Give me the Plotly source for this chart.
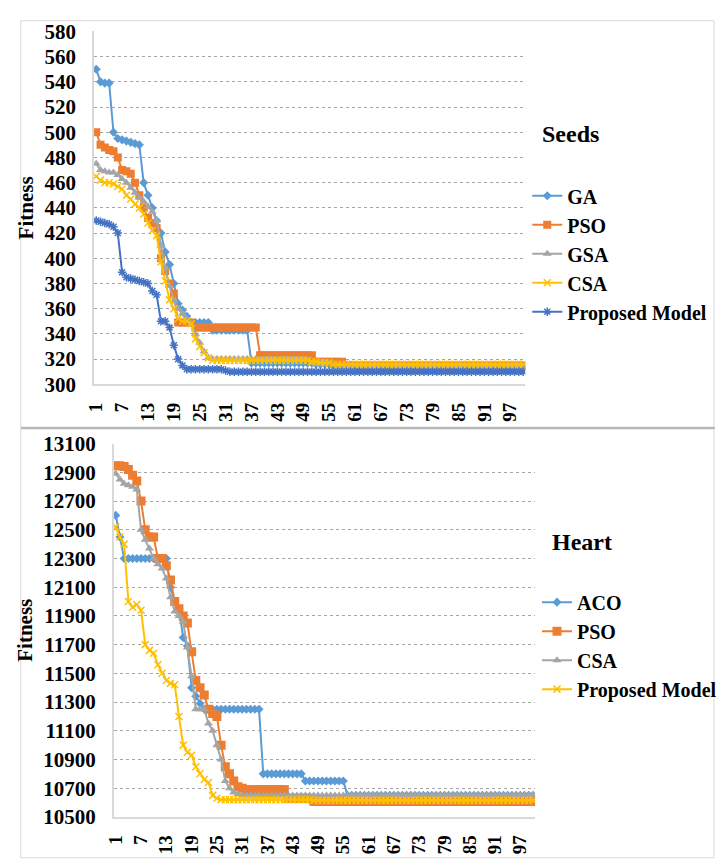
import plotly.graph_objects as go

W, H = 722, 861
FONT = "Liberation Serif"

iterations = list(range(1, 101))
x_tick_labels = [1, 7, 13, 19, 25, 31, 37, 43, 49, 55, 61, 67, 73, 79, 85, 91, 97]

# ---------------- Seeds (top chart) ----------------
seeds_ga = [
    550, 540, 539, 539, 500, 495, 494, 493, 492, 491,
    490, 460, 450, 440, 430, 420, 405, 395, 380, 364,
    359, 354, 349, 349, 349, 349, 349, 343, 343, 343,
    343, 343, 343, 343, 343, 343, 317, 317, 317, 317,
    317, 317, 317, 317, 317, 317, 317, 317, 317, 317,
    317, 316, 316, 316, 316, 315, 315, 315, 315, 315,
    313, 313, 313, 313, 313, 313, 313, 313, 313, 313,
    313, 313, 313, 313, 313, 313, 313, 313, 313, 313,
    313, 313, 313, 313, 313, 313, 313, 313, 313, 313,
    313, 313, 313, 313, 313, 313, 313, 313, 313, 313,
]
seeds_pso = [
    500, 490, 488, 486, 485, 480, 470, 469, 467, 460,
    450, 440, 432, 428, 424, 400, 390, 380, 372, 349,
    349, 349, 349, 345, 345, 345, 345, 345, 345, 345,
    345, 345, 345, 345, 345, 345, 345, 345, 323, 323,
    323, 323, 323, 323, 323, 323, 323, 323, 323, 323,
    323, 318, 318, 318, 318, 318, 318, 318, 315, 315,
    315, 315, 315, 315, 315, 315, 315, 315, 315, 315,
    315, 315, 315, 315, 315, 315, 315, 315, 315, 315,
    315, 315, 315, 315, 315, 315, 315, 315, 315, 315,
    315, 315, 315, 315, 315, 315, 315, 315, 315, 315,
]
seeds_gsa = [
    475, 470, 469, 468, 468, 466, 463, 460, 456, 452,
    448, 445, 441, 437, 430, 410, 392, 378, 366, 360,
    356, 352, 348, 340, 333, 326, 321, 320, 320, 320,
    320, 320, 320, 320, 320, 320, 320, 320, 320, 320,
    320, 320, 320, 320, 320, 320, 320, 320, 320, 320,
    317, 317, 317, 317, 317, 316, 315, 314, 314, 314,
    314, 314, 314, 314, 314, 314, 314, 314, 314, 314,
    314, 314, 314, 314, 314, 314, 314, 314, 314, 314,
    314, 314, 314, 314, 314, 314, 314, 314, 314, 314,
    314, 314, 314, 314, 314, 314, 314, 314, 314, 314,
]
seeds_csa = [
    465, 462, 460, 460, 459, 457, 455, 450, 447, 443,
    440, 435, 428, 422, 418, 397, 382, 367, 360, 352,
    350, 350, 348, 336, 330, 325, 321, 319, 319, 319,
    319, 319, 319, 319, 319, 319, 319, 319, 319, 319,
    319, 319, 319, 319, 319, 319, 319, 319, 319, 319,
    318, 318, 317, 317, 317, 316, 316, 316, 316, 316,
    316, 316, 316, 316, 316, 316, 316, 316, 316, 316,
    316, 316, 316, 316, 316, 316, 316, 316, 316, 316,
    316, 316, 316, 316, 316, 316, 316, 316, 316, 316,
    316, 316, 316, 316, 316, 316, 316, 316, 316, 316,
]
seeds_proposed = [
    430, 429, 428, 427, 425, 420, 389, 385, 384, 383,
    382, 381, 380, 374, 371, 350, 350, 345, 331, 320,
    315, 312, 312, 312, 312, 312, 312, 312, 312, 312,
    311, 310, 310, 310, 310, 310, 310, 310, 310, 310,
    310, 310, 310, 310, 310, 310, 310, 310, 310, 310,
    310, 310, 310, 310, 310, 310, 310, 310, 310, 310,
    310, 310, 310, 310, 310, 310, 310, 310, 310, 310,
    310, 310, 310, 310, 310, 310, 310, 310, 310, 310,
    310, 310, 310, 310, 310, 310, 310, 310, 310, 310,
    310, 310, 310, 310, 310, 310, 310, 310, 310, 310,
]

# ---------------- Heart (bottom chart) ----------------
heart_aco = [
    12600, 12450, 12300, 12300, 12300, 12300, 12300, 12300, 12300, 12300,
    12300, 12300, 12300, 12100, 12000, 11950, 11750, 11690, 11400, 11340,
    11290, 11250, 11250, 11250, 11250, 11250, 11250, 11250, 11250, 11250,
    11250, 11250, 11250, 11250, 11250, 10800, 10800, 10800, 10800, 10800,
    10800, 10800, 10800, 10800, 10800, 10750, 10750, 10750, 10750, 10750,
    10750, 10750, 10750, 10750, 10750, 10650, 10650, 10650, 10650, 10650,
    10650, 10650, 10650, 10650, 10650, 10650, 10650, 10650, 10650, 10650,
    10650, 10650, 10650, 10650, 10650, 10650, 10650, 10650, 10650, 10650,
    10650, 10650, 10650, 10650, 10650, 10650, 10650, 10650, 10650, 10650,
    10650, 10650, 10650, 10650, 10650, 10650, 10650, 10650, 10650, 10650,
]
heart_pso = [
    12945, 12945, 12940, 12920, 12880, 12840, 12700, 12500, 12450, 12450,
    12300, 12300, 12250, 12150, 12000, 11950, 11900, 11850, 11650, 11450,
    11400, 11350, 11250, 11220, 11200, 11000, 10850, 10800, 10750, 10710,
    10700, 10690, 10690, 10690, 10690, 10690, 10690, 10690, 10690, 10690,
    10690, 10630, 10630, 10630, 10630, 10630, 10630, 10608, 10608, 10608,
    10608, 10608, 10608, 10608, 10608, 10608, 10608, 10608, 10608, 10608,
    10608, 10608, 10608, 10608, 10608, 10608, 10608, 10608, 10608, 10608,
    10608, 10608, 10608, 10608, 10608, 10608, 10608, 10608, 10608, 10608,
    10608, 10608, 10608, 10608, 10608, 10608, 10608, 10608, 10608, 10608,
    10608, 10608, 10608, 10608, 10608, 10608, 10608, 10608, 10608, 10608,
]
heart_csa = [
    12890, 12850, 12820, 12810, 12800, 12780, 12500, 12430, 12370, 12300,
    12260, 12230, 12160, 12030, 11930, 11900, 11860, 11680, 11480, 11250,
    11250, 11250, 11150, 11100, 11000, 10900, 10750, 10700, 10670, 10660,
    10650, 10650, 10650, 10650, 10650, 10650, 10650, 10650, 10650, 10650,
    10650, 10650, 10650, 10650, 10650, 10650, 10650, 10650, 10650, 10650,
    10650, 10650, 10650, 10650, 10650, 10650, 10650, 10650, 10650, 10650,
    10650, 10650, 10650, 10650, 10650, 10650, 10650, 10650, 10650, 10650,
    10650, 10650, 10650, 10650, 10650, 10650, 10650, 10650, 10650, 10650,
    10650, 10650, 10650, 10650, 10650, 10650, 10650, 10650, 10650, 10650,
    10650, 10650, 10650, 10650, 10650, 10650, 10650, 10650, 10650, 10650,
]
heart_proposed = [
    12520, 12450, 12400, 12000, 11960, 11980, 11940, 11700, 11660, 11640,
    11560, 11500, 11450, 11430, 11420, 11200, 11000, 10950, 10930, 10850,
    10800, 10760, 10740, 10650, 10630, 10620, 10620, 10620, 10620, 10620,
    10620, 10620, 10620, 10620, 10620, 10620, 10620, 10620, 10620, 10620,
    10620, 10620, 10620, 10620, 10620, 10620, 10620, 10615, 10615, 10615,
    10615, 10615, 10615, 10615, 10615, 10615, 10615, 10615, 10615, 10615,
    10615, 10615, 10615, 10615, 10615, 10615, 10615, 10615, 10615, 10615,
    10615, 10615, 10615, 10615, 10615, 10615, 10615, 10615, 10615, 10615,
    10615, 10615, 10615, 10615, 10615, 10615, 10615, 10615, 10615, 10615,
    10615, 10615, 10615, 10615, 10615, 10615, 10615, 10615, 10615, 10615,
]

top_names = ["GA", "PSO", "GSA", "CSA", "Proposed Model"]
top_values = [seeds_ga, seeds_pso, seeds_gsa, seeds_csa, seeds_proposed]
top_colors = ["#5B9BD5", "#ED7D31", "#A5A5A5", "#FFC000", "#4472C4"]
top_symbols = ["diamond", "square", "triangle-up", "x-thin", "asterisk"]
top_sizes = [7, 8, 8, 7, 7]

bottom_names = ["ACO", "PSO", "CSA", "Proposed Model"]
bottom_values = [heart_aco, heart_pso, heart_csa, heart_proposed]
bottom_colors = ["#5B9BD5", "#ED7D31", "#A5A5A5", "#FFC000"]
bottom_symbols = ["diamond", "square", "triangle-up", "x-thin"]
bottom_sizes = [7, 9, 8, 7]


def px(p):
    return p / W


def py(p):
    return 1 - p / H


fig = go.Figure()


def marker(color, sym, size):
    thin = sym in ("x-thin", "asterisk")
    return dict(symbol=sym, size=size, color=color,
                line=dict(color=color, width=1.5 if thin else 0))


for n, v, c, s, z in zip(top_names, top_values, top_colors, top_symbols, top_sizes):
    fig.add_trace(go.Scatter(x=iterations, y=v, name=n, mode="lines+markers",
                             line=dict(color=c, width=2), marker=marker(c, s, z),
                             xaxis="x", yaxis="y", legend="legend"))

for n, v, c, s, z in zip(bottom_names, bottom_values, bottom_colors, bottom_symbols, bottom_sizes):
    fig.add_trace(go.Scatter(x=iterations, y=v, name=n, mode="lines+markers",
                             line=dict(color=c, width=2), marker=marker(c, s, z),
                             xaxis="x2", yaxis="y2", legend="legend2"))

tick_font_x = dict(family=FONT, size=19, color="black", weight="bold")
tick_font_y = dict(family=FONT, size=21, color="black", weight="bold")
title_font = dict(family=FONT, size=21, color="black", weight="bold")
legend_font = dict(family=FONT, size=20, color="black", weight="bold")

common_x = dict(range=[0.5, 100.5], tickmode="array", tickvals=x_tick_labels,
                ticktext=[str(t) for t in x_tick_labels], tickangle=-90,
                tickfont=tick_font_x, showgrid=False, zeroline=False,
                showline=True, linecolor="#D9D9D9", linewidth=1.5,
                ticks="", ticklabelstandoff=9)
common_y = dict(tickfont=tick_font_y, showgrid=True, gridcolor="#A6A6A6",
                griddash="dot", gridwidth=1, zeroline=False, showline=True,
                linecolor="#D9D9D9", linewidth=1.5, ticks="", tickformat="d",
                ticklabelstandoff=12,
                title=dict(text="Fitness", font=title_font, standoff=5))

fig.update_layout(
    width=W, height=H,
    margin=dict(l=0, r=0, t=0, b=0),
    paper_bgcolor="white", plot_bgcolor="white",
    font=dict(family=FONT, color="black"),
    xaxis=dict(domain=[px(87), px(528)], anchor="y", **common_x),
    yaxis=dict(domain=[py(383), py(20)], anchor="x", range=[300, 580],
               tick0=300, dtick=20, **common_y),
    xaxis2=dict(domain=[px(107), px(538)], anchor="y2", **common_x),
    yaxis2=dict(domain=[py(828), py(444)], anchor="x2", range=[10500, 13100],
                tick0=10500, dtick=200, **common_y),
    legend=dict(x=px(530), y=py(169), xanchor="left", yanchor="top",
                font=legend_font, bgcolor="rgba(0,0,0,0)", itemwidth=30),
    legend2=dict(x=px(540), y=py(587), xanchor="left", yanchor="top",
                 font=legend_font, bgcolor="rgba(0,0,0,0)", itemwidth=30),
    annotations=[
        dict(text="Seeds", x=px(543), y=py(126), xref="paper", yref="paper",
             xanchor="left", yanchor="middle", showarrow=False,
             font=dict(family=FONT, size=24, color="black", weight="bold")),
        dict(text="Heart", x=px(553), y=py(545), xref="paper", yref="paper",
             xanchor="left", yanchor="middle", showarrow=False,
             font=dict(family=FONT, size=24, color="black", weight="bold")),
    ],
    shapes=[
        dict(type="rect", xref="paper", yref="paper", x0=px(12), x1=px(721),
             y0=py(427), y1=py(9), line=dict(color="#D9D9D9", width=1)),
        dict(type="rect", xref="paper", yref="paper", x0=px(12), x1=px(721),
             y0=py(870), y1=py(429), line=dict(color="#D9D9D9", width=1)),
        dict(type="line", xref="paper", yref="paper", x0=px(12), x1=1,
             y0=py(428), y1=py(428), line=dict(color="#A6A6A6", width=1.5)),
    ],
    showlegend=True,
)

fig.write_html("out.html")
